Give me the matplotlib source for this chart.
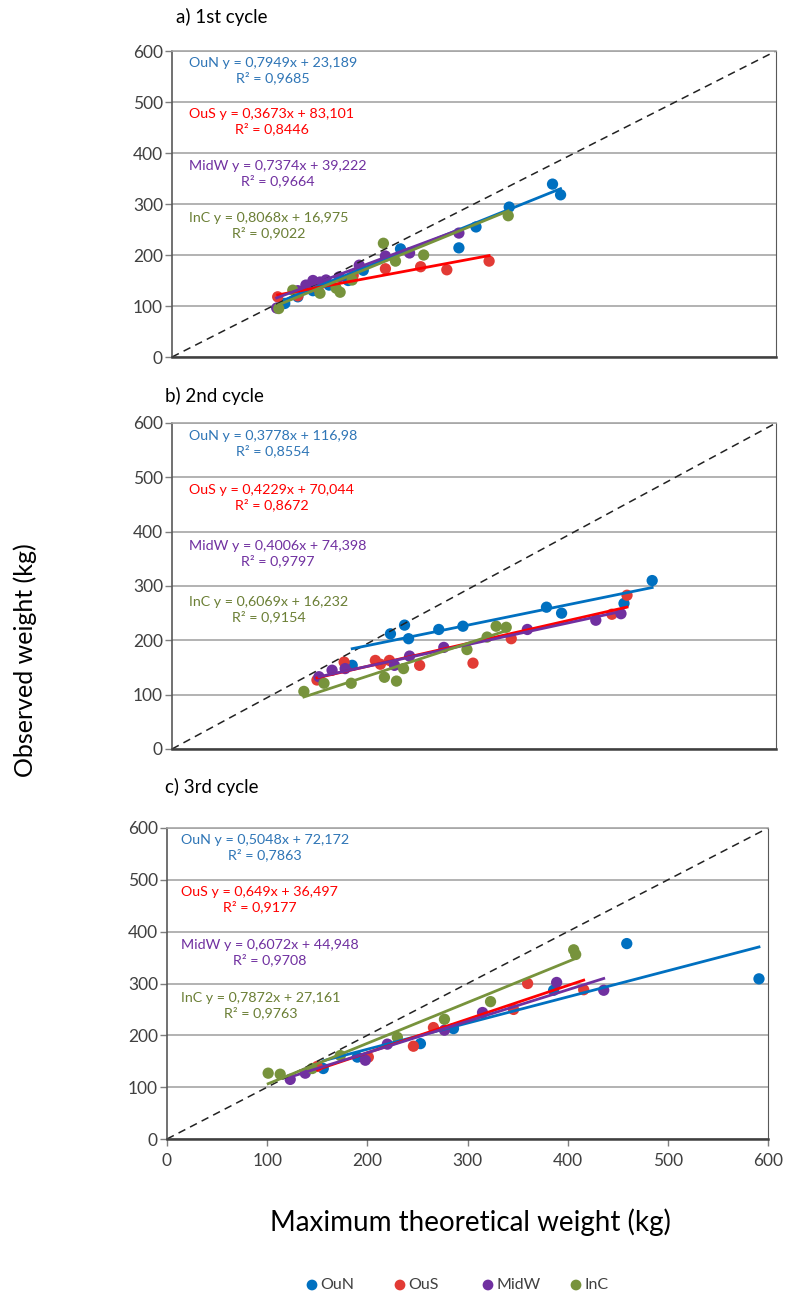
import matplotlib
matplotlib.use("Agg")
import matplotlib.pyplot as plt
import numpy as np

plt.rcParams['font.family'] = ['Lato', 'DejaVu Sans']

groups = ["OuN", "OuS", "MidW", "InC"]
marker_colors = ["#0070C0", "#E23B35", "#7030A0", "#77933C"]
line_colors = ["#0070C0", "#FF0000", "#7030A0", "#77933C"]
text_colors = ["#2E75B6", "#FF0000", "#7030A0", "#6B7F35"]

titles = ["a) 1st cycle", "b) 2nd cycle", "c) 3rd cycle"]

# 1st cycle
oun1_x = [112, 125, 140, 156, 175, 190, 227, 285, 302, 335, 378, 386]
oun1_y = [105, 118, 130, 141, 150, 170, 212, 214, 255, 294, 339, 318]
ous1_x = [105, 125, 145, 180, 212, 247, 273, 315]
ous1_y = [118, 120, 135, 160, 173, 177, 171, 188]
midw1_x = [104, 125, 133, 140, 147, 153, 166, 186, 212, 236, 285]
midw1_y = [96, 130, 141, 150, 147, 151, 157, 180, 198, 204, 243]
inc1_x = [106, 120, 147, 163, 167, 179, 210, 222, 250, 334]
inc1_y = [95, 131, 125, 135, 127, 151, 223, 188, 200, 277]
slope1 = [0.7949, 0.3673, 0.7374, 0.8068]
icept1 = [23.189, 83.101, 39.222, 16.975]
r2_1 = [0.9685, 0.8446, 0.9664, 0.9022]

# 2nd cycle
oun2_x = [179, 217, 231, 235, 265, 289, 372, 387, 449, 477]
oun2_y = [154, 212, 228, 203, 220, 226, 261, 250, 268, 310]
ous2_x = [144, 171, 202, 207, 216, 246, 299, 337, 437, 452]
ous2_y = [127, 160, 163, 156, 163, 154, 158, 203, 248, 283]
midw2_x = [146, 159, 172, 221, 236, 270, 353, 421, 446]
midw2_y = [133, 145, 148, 154, 171, 187, 220, 237, 249]
inc2_x = [131, 151, 178, 211, 223, 230, 293, 313, 322, 332]
inc2_y = [106, 121, 121, 132, 125, 148, 183, 206, 226, 224]
slope2 = [0.3778, 0.4229, 0.4006, 0.6069]
icept2 = [116.98, 70.044, 74.398, 16.232]
r2_2 = [0.8554, 0.8672, 0.9797, 0.9154]

# 3rd cycle
oun3_x = [156, 190, 253, 286, 386, 459, 591]
oun3_y = [136, 158, 184, 213, 287, 377, 309]
ous3_x = [150, 201, 246, 266, 346, 360, 416]
ous3_y = [140, 158, 179, 215, 250, 300, 288]
midw3_x = [123, 138, 198, 220, 277, 315, 389, 436]
midw3_y = [115, 127, 152, 183, 210, 244, 302, 287]
inc3_x = [101, 113, 145, 173, 230, 277, 323, 406, 408]
inc3_y = [127, 125, 136, 161, 196, 231, 265, 365, 356]
slope3 = [0.5048, 0.649, 0.6072, 0.7872]
icept3 = [72.172, 36.497, 44.948, 27.161]
r2_3 = [0.7863, 0.9177, 0.9708, 0.9763]

cycles = [
    ([oun1_x, ous1_x, midw1_x, inc1_x], [oun1_y, ous1_y, midw1_y, inc1_y], slope1, icept1, r2_1),
    ([oun2_x, ous2_x, midw2_x, inc2_x], [oun2_y, ous2_y, midw2_y, inc2_y], slope2, icept2, r2_2),
    ([oun3_x, ous3_x, midw3_x, inc3_x], [oun3_y, ous3_y, midw3_y, inc3_y], slope3, icept3, r2_3),
]

# label block centres (data y) and left edge (data x)
label_y = [562, 462, 360, 257]
label_x = [17, 17, 14]

W, H = 787, 1297
# pixel boxes of the plot areas: left, right, top, bottom
boxes = [(172, 776, 51, 357), (172, 776, 423, 749), (167, 768, 828, 1139)]
title_pos = [(176, 17), (165, 396), (165, 787)]
legend_px = [312, 400, 488, 576]


def fmt(v):
    return str(v).replace('.', ',')


def main():
    fig = plt.figure(figsize=(W/100, H/100), dpi=100)

    for i, (xs, ys, sl, ic, r2) in enumerate(cycles):
        l, r, t, b = boxes[i]
        ax = fig.add_axes([l/W, 1-b/H, (r-l)/W, (b-t)/H])
        ax.set_xlim(0, 600)
        ax.set_ylim(0, 600)
        ax.set_yticks(np.arange(0, 601, 100))
        ax.set_xticks(np.arange(0, 601, 100))
        ax.yaxis.grid(True, color="#A6A6A6", lw=1.2, zorder=0)
        ax.set_axisbelow(True)
        ax.tick_params(axis='y', length=5, width=1, color="#7F7F7F", labelsize=12.5, pad=1.5, labelcolor="#404040")
        if i < 2:
            ax.tick_params(axis='x', length=0, labelbottom=False)
        else:
            ax.tick_params(axis='x', length=5, width=1, color="#7F7F7F", labelsize=12.5, pad=5, labelcolor="#404040")
        ax.spines['top'].set_color("#A6A6A6")
        ax.spines['top'].set_linewidth(1.2)
        ax.spines['right'].set_color("#595959")
        ax.spines['left'].set_color("#595959")
        ax.spines['left'].set_linewidth(1.2)
        ax.spines['bottom'].set_color("#404040")
        ax.spines['bottom'].set_linewidth(1.8)

        # 1:1 line
        ax.plot([0, 600], [0, 600], ls=(0, (5, 3.5)), color="#222222", lw=1.1, zorder=2.5)

        for k in range(4):
            ax.scatter(xs[k], ys[k], s=66, color=marker_colors[k], edgecolors='none', zorder=2)
            xf = np.array([min(xs[k]), max(xs[k])])
            ax.plot(xf, sl[k]*xf + ic[k], color=line_colors[k], lw=2.0, zorder=3)
            eq = "{} y = {}x + {}\nR² = {}".format(groups[k], fmt(sl[k]), fmt(ic[k]), fmt(r2[k]))
            ax.text(label_x[i], label_y[k], eq, color=text_colors[k], fontsize=10.3,
                    ha='left', va='center', multialignment='center', linespacing=1.2)

        tx, ty = title_pos[i]
        fig.text(tx/W, 1-ty/H, titles[i], fontsize=13.5, ha='left', va='center', color="#000000")

    fig.text(470/W, 1-1222/H, "Maximum theoretical weight (kg)", fontsize=20, ha='center', va='center')
    fig.text(25/W, 1-660/H, "Observed weight (kg)", fontsize=18, ha='center', va='center', rotation=90)

    # legend drawn by hand so the entries land where they are in the chart
    lax = fig.add_axes([0, 0, 1, 1], facecolor='none')
    lax.set_xlim(0, W)
    lax.set_ylim(H, 0)
    lax.axis('off')
    for k in range(4):
        lax.scatter([legend_px[k]], [1285], s=60, color=marker_colors[k], edgecolors='none')
        lax.text(legend_px[k] + 8, 1285, groups[k], fontsize=11.5, ha='left', va='center', color="#404040")

    fig.savefig("out.png", dpi=100)


if __name__ == "__main__":
    main()
